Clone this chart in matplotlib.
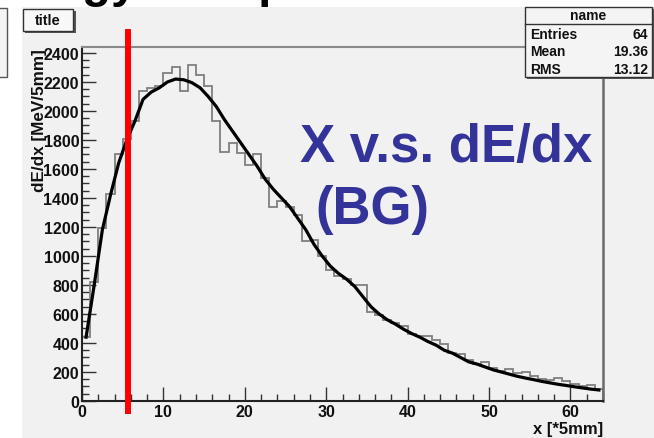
import matplotlib
matplotlib.use("Agg")
import matplotlib.pyplot as plt
from matplotlib.patches import Rectangle
from matplotlib.lines import Line2D
import numpy as np

plt.rcParams['font.family'] = ['Liberation Sans', 'DejaVu Sans']

# ---------------- data ----------------
n_bins = 64
x_min, x_max = 0, 64
hist_values = [440, 820, 1190, 1430, 1700, 1810, 1930, 2140, 2160, 2170,
               2260, 2300, 2140, 2320, 2250, 2170, 1930, 1720, 1780, 1710,
               1630, 1700, 1540, 1340, 1380, 1340, 1280, 1100, 1110, 1000,
               900, 860, 840, 800, 800, 615, 590, 560, 540, 520,
               465, 450, 445, 420, 390, 330, 325, 285, 255, 267,
               230, 210, 218, 190, 198, 170, 155, 145, 160, 135,
               115, 100, 112, 85]
smooth_values = [440, 800, 1180, 1420, 1640, 1800, 1930, 2080, 2130, 2160,
                 2200, 2220, 2215, 2195, 2160, 2100, 2030, 1940, 1860, 1780,
                 1700, 1620, 1530, 1460, 1400, 1340, 1260, 1180, 1080, 1000,
                 930, 880, 840, 790, 720, 650, 600, 560, 530, 495,
                 465, 440, 410, 385, 350, 330, 300, 270, 255, 235,
                 215, 200, 185, 170, 158, 147, 135, 125, 115, 107,
                 98, 90, 82, 76]
cut_position = 5.64
stats_title = "name"
stats_labels = ["Entries", "Mean", "RMS"]
stats_values = ["64", "19.36", "13.12"]
y_max = 2441

W, H = 654, 439
fig = plt.figure(figsize=(W / 100, H / 100), dpi=100)
fig.patch.set_facecolor('white')

def fx(px):
    return px / W

def fy(py):
    return 1 - py / H

# canvas background
fig.patches.append(Rectangle((fx(22), 0), fx(654) - fx(22), fy(8), transform=fig.transFigure,
                             facecolor='#f1f1f1', edgecolor='none', zorder=-2))
# partial neighbouring box at left
fig.patches.append(Rectangle((fx(-5), fy(78)), fx(12), fy(9) - fy(78), transform=fig.transFigure,
                             facecolor='#f4f4f4', edgecolor='#555555', lw=1.0, zorder=-1))

# slide title, only its descenders are visible
fig.text(fx(-23), fy(-3), "Energy loss profile", fontsize=34, fontweight='bold',
         color='black', ha='left', va='baseline')

ax = fig.add_axes([fx(82), fy(402), fx(603) - fx(82), fy(48) - fy(402)])
ax.set_zorder(2)
ax.set_facecolor('#f1f1f1')
edges = np.arange(x_min, x_max + 1)
centers = edges[:-1] + 0.5
ax.stairs(hist_values, edges, color='#808080', lw=1.3, zorder=2)
ax.plot(centers, smooth_values, color='black', lw=2.3, zorder=3)
ax.set_xlim(x_min, x_max)
ax.set_ylim(0, y_max)

ax.set_xticks(np.arange(0, 61, 10))
ax.set_xticks(np.arange(0, 65, 2), minor=True)
ax.set_yticks(np.arange(0, 2401, 200))
ax.set_yticks(np.arange(0, 2441, 50), minor=True)
ax.tick_params(which='major', direction='in', length=10, width=1.0, color='#333333',
               labelsize=11.5, pad=2)
ax.tick_params(which='minor', direction='in', length=5, width=1.0, color='#333333')
ax.tick_params(top=False, right=False)
for lab in ax.get_xticklabels() + ax.get_yticklabels():
    lab.set_fontweight('bold')
    lab.set_color('#111111')

for side in ['left', 'bottom']:
    ax.spines[side].set_color('#222222')
    ax.spines[side].set_linewidth(1.5)
ax.spines['top'].set_color('#8a8a8a')
ax.spines['top'].set_linewidth(1.5)
ax.spines['right'].set_color('#6a6a6a')
ax.spines['right'].set_linewidth(1.8)

# red cut line
ax.axvline(cut_position, ymin=-0.028, ymax=1.042, color='#ff0000', lw=4.3,
           clip_on=False, zorder=5)

# axis labels (ROOT style)
fig.text(fx(40), fy(121), "dE/dx [MeV/5mm]", rotation=90, fontsize=12.3,
         fontweight='bold', color='#111111', ha='center', va='center', zorder=10)
fig.text(fx(603), fy(430), "x [*5mm]", fontsize=12, fontweight='bold',
         color='#111111', ha='right', va='center', zorder=10)

# blue annotation
fig.text(fx(300), fy(162), "X v.s. dE/dx", fontsize=38, fontweight='bold',
         color='#333399', ha='left', va='baseline', zorder=10)
fig.text(fx(315), fy(224), "(BG)", fontsize=38, fontweight='bold',
         color='#333399', ha='left', va='baseline', zorder=10)

# title box
fig.patches.append(Rectangle((fx(25), fy(34)), fx(51) - fx(0), fy(12) - fy(34),
                             transform=fig.transFigure, facecolor='#555555',
                             edgecolor='none', zorder=6))
fig.patches.append(Rectangle((fx(23), fy(32)), fx(50) - fx(0), fy(10) - fy(32),
                             transform=fig.transFigure, facecolor='#f8f8f8',
                             edgecolor='#333333', lw=1.0, zorder=7))
fig.text(fx(48), fy(21), "title", fontsize=10.5, fontweight='bold', color='#111111',
         ha='center', va='center', zorder=8)

# stats box
bx0, bx1, by0, by1 = 525, 652, 8, 78
fig.patches.append(Rectangle((fx(bx0 + 2), fy(by1 + 2)), fx(bx1 - bx0), fy(by0) - fy(by1),
                             transform=fig.transFigure, facecolor='#555555',
                             edgecolor='none', zorder=6))
fig.patches.append(Rectangle((fx(bx0), fy(by1)), fx(bx1 - bx0), fy(by0) - fy(by1),
                             transform=fig.transFigure, facecolor='#f4f4f4',
                             edgecolor='#333333', lw=1.0, zorder=7))
fig.lines.append(Line2D([fx(bx0), fx(bx1)], [fy(25), fy(25)], transform=fig.transFigure,
                        color='#333333', lw=1.0, zorder=8))
fig.text(fx((bx0 + bx1) / 2), fy(16.5), stats_title, fontsize=10, fontweight='bold',
         color='#111111', ha='center', va='center', zorder=9)
row_y = [35, 52.5, 69.5]
for lab, val, yy in zip(stats_labels, stats_values, row_y):
    fig.text(fx(530), fy(yy), lab, fontsize=10, fontweight='bold', color='#111111',
             ha='left', va='center', zorder=9)
    fig.text(fx(648), fy(yy), val, fontsize=10, fontweight='bold', color='#111111',
             ha='right', va='center', zorder=9)

fig.savefig("out.png", dpi=100)
